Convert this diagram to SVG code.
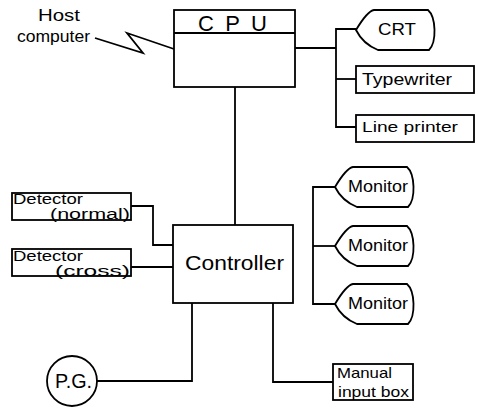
<svg xmlns="http://www.w3.org/2000/svg" xmlns:xlink="http://www.w3.org/1999/xlink" width="478" height="409" viewBox="0 0 478 409">
<style>
  .box { fill: #fff; stroke: #000; stroke-width: 1.8; }
  .ln { fill: none; stroke: #000; stroke-width: 1.8; stroke-linejoin: miter; }
  text { font-family: "Liberation Sans", "DejaVu Sans", sans-serif; fill: #000; }
  .t14 { font-size: 14px; }
  .t15 { font-size: 15px; }
  .t16 { font-size: 16px; }
  .t17 { font-size: 17px; }
</style>
<defs>
  <path id="disp" class="box" d="M0,0 C6,-10 12,-19 18,-20 L72,-20 C80,-13 81,12 73,20 L22,20 C12,16 4,8 0,0 Z"/>
</defs>
<rect width="478" height="409" fill="#fff"/>

<g id="connectors">
  <polyline class="ln" points="95,38 143,53 127,33 174,49"/>
  <line class="ln" x1="235" y1="87" x2="235" y2="225"/>
  <line class="ln" x1="295" y1="48" x2="336" y2="48"/>
  <polyline class="ln" points="356,29 336,29 336,127 356,127"/>
  <line class="ln" x1="336" y1="79" x2="356" y2="79"/>
  <polyline class="ln" points="131,206 153,206 153,245 173,245"/>
  <line class="ln" x1="131" y1="267" x2="173" y2="267"/>
  <polyline class="ln" points="335,187 313,187 313,304 335,304"/>
  <line class="ln" x1="313" y1="246" x2="335" y2="246"/>
  <polyline class="ln" points="192,303 192,381 97,381"/>
  <polyline class="ln" points="273,303 273,382 333,382"/>
</g>

<g id="host">
  <text class="t16" x="38" y="21" textLength="42" lengthAdjust="spacingAndGlyphs">Host</text>
  <text class="t16" x="17" y="42" textLength="73" lengthAdjust="spacingAndGlyphs">computer</text>
</g>

<g id="cpu">
  <rect class="box" x="174" y="10" width="121" height="77"/>
  <line class="ln" x1="174" y1="33" x2="295" y2="33"/>
  <text x="198" y="31" font-size="22" textLength="69" lengthAdjust="spacing">CPU</text>
</g>

<g id="crt">
  <use xlink:href="#disp" href="#disp" x="356" y="30"/>
  <text class="t17" x="378" y="35" textLength="38" lengthAdjust="spacingAndGlyphs">CRT</text>
</g>

<g id="typewriter">
  <rect class="box" x="356" y="66" width="118" height="27"/>
  <text class="t17" x="362" y="85" textLength="90" lengthAdjust="spacingAndGlyphs">Typewriter</text>
</g>

<g id="lineprinter">
  <rect class="box" x="356" y="115" width="118" height="27"/>
  <text class="t15" x="362" y="132" textLength="96" lengthAdjust="spacingAndGlyphs">Line printer</text>
</g>

<g id="detector-normal">
  <rect class="box" x="12" y="193" width="119" height="27"/>
  <text class="t14" x="13" y="204" textLength="70" lengthAdjust="spacingAndGlyphs">Detector</text>
  <text class="t14" x="50" y="219" textLength="80" lengthAdjust="spacingAndGlyphs">(normal)</text>
</g>

<g id="detector-cross">
  <rect class="box" x="12" y="249" width="119" height="27"/>
  <text class="t14" x="13" y="261" textLength="70" lengthAdjust="spacingAndGlyphs">Detector</text>
  <text class="t14" x="55" y="276" textLength="75" lengthAdjust="spacingAndGlyphs">(cross)</text>
</g>

<g id="controller">
  <rect class="box" x="173" y="225" width="120" height="78"/>
  <text x="185" y="270" font-size="21" textLength="99" lengthAdjust="spacingAndGlyphs">Controller</text>
</g>

<g id="monitor1">
  <use xlink:href="#disp" href="#disp" x="335" y="187"/>
  <text class="t16" x="348" y="192" textLength="60" lengthAdjust="spacingAndGlyphs">Monitor</text>
</g>
<g id="monitor2">
  <use xlink:href="#disp" href="#disp" x="335" y="246"/>
  <text class="t16" x="348" y="251" textLength="60" lengthAdjust="spacingAndGlyphs">Monitor</text>
</g>
<g id="monitor3">
  <use xlink:href="#disp" href="#disp" x="335" y="304"/>
  <text class="t16" x="348" y="309" textLength="60" lengthAdjust="spacingAndGlyphs">Monitor</text>
</g>

<g id="pg">
  <circle class="box" cx="72" cy="381" r="25"/>
  <text x="55" y="388" font-size="20" textLength="37" lengthAdjust="spacingAndGlyphs">P.G.</text>
</g>

<g id="manual">
  <rect class="box" x="333" y="364" width="80" height="36"/>
  <text class="t15" x="337" y="378" textLength="55" lengthAdjust="spacingAndGlyphs">Manual</text>
  <text class="t15" x="338" y="397" textLength="71" lengthAdjust="spacingAndGlyphs">input box</text>
</g>
</svg>
